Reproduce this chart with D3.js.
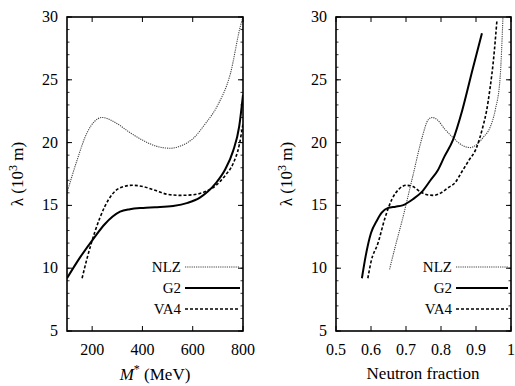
<!DOCTYPE html>
<html>
<head>
<meta charset="utf-8">
<script src="https://cdn.jsdelivr.net/npm/d3@7"></script>
<style>
  body { margin: 0; background: #fff; }
</style>
</head>
<body>
<div id="chart"></div>
<script>
// ---- left panel: lambda vs M* (MeV)
const mNLZ = [100, 140, 180, 240, 300, 350, 400, 450, 510, 560, 600, 650, 700, 750, 790, 800];
const lamNLZ_m = [16.0, 18.6, 20.8, 22.0, 21.5, 20.8, 20.2, 19.75, 19.55, 19.8, 20.3, 21.5, 23.0, 25.5, 29.3, 30.0];
const mG2 = [100, 150, 207, 250, 311, 350, 403, 450, 522, 580, 627, 660, 693, 730, 760, 785, 800];
const lamG2_m = [9.2, 10.8, 12.4, 13.5, 14.5, 14.7, 14.8, 14.85, 14.95, 15.2, 15.6, 16.1, 16.8, 17.9, 19.3, 21.3, 23.8];
const mVA4 = [160, 180, 211, 250, 311, 360, 403, 450, 496, 550, 603, 650, 693, 730, 760, 785, 800];
const lamVA4_m = [9.2, 10.8, 12.9, 14.9, 16.4, 16.6, 16.5, 16.2, 15.9, 15.8, 15.85, 16.1, 16.6, 17.4, 18.3, 19.8, 21.5];

// ---- right panel: lambda vs neutron fraction
const fNLZ = [0.653, 0.67, 0.689, 0.72, 0.746, 0.763, 0.775, 0.79, 0.81, 0.834, 0.86, 0.883, 0.90, 0.92, 0.94, 0.955, 0.969, 0.977];
const lamNLZ_f = [9.9, 11.8, 13.8, 17.4, 20.4, 21.8, 22.0, 21.8, 21.1, 20.4, 19.8, 19.6, 19.8, 20.4, 21.2, 22.6, 25.2, 30.0];
const fG2 = [0.574, 0.585, 0.60, 0.617, 0.63, 0.649, 0.67, 0.69, 0.72, 0.746, 0.77, 0.791, 0.81, 0.834, 0.86, 0.89, 0.917];
const lamG2_f = [9.2, 11.0, 12.8, 13.8, 14.4, 14.8, 14.9, 15.0, 15.5, 16.1, 17.0, 17.8, 18.9, 20.2, 22.5, 25.8, 28.7];
const fVA4 = [0.591, 0.60, 0.62, 0.64, 0.66, 0.68, 0.70, 0.72, 0.74, 0.76, 0.78, 0.80, 0.82, 0.84, 0.86, 0.88, 0.90, 0.92, 0.93, 0.94, 0.95, 0.96];
const lamVA4_f = [9.2, 10.5, 12.0, 14.0, 15.5, 16.3, 16.6, 16.5, 16.1, 15.85, 15.8, 16.0, 16.4, 16.8, 17.7, 18.6, 19.5, 21.3, 22.5, 24.3, 26.6, 29.8];

const yTicks = [5, 10, 15, 20, 25, 30];
const mTicks = [200, 400, 600, 800];
const fTicks = [0.5, 0.6, 0.7, 0.8, 0.9, 1];
const legendNames = ['NLZ', 'G2', 'VA4'];

const styles = {
  NLZ: { width: 1.1, dash: '1.2,1', color: '#444' },
  G2: { width: 2, dash: null, color: '#000' },
  VA4: { width: 1.6, dash: '3,2', color: '#000' }
};

const SERIF = 'Liberation Serif, DejaVu Serif, Times New Roman, Times, Tinos, FreeSerif, Nimbus Roman, serif';
const W = 515, H = 386;
const svg = d3.select('#chart').append('svg')
  .attr('width', W).attr('height', H)
  .style('font-family', SERIF);

function panel(cfg) {
  const x = d3.scaleLinear().domain(cfg.xDomain).range([cfg.left, cfg.right]);
  const y = d3.scaleLinear().domain([5, 30]).range([331, 17]);
  const g = svg.append('g');

  // clip for curves
  const clipId = 'clip' + cfg.id;
  g.append('clipPath').attr('id', clipId)
    .append('rect')
    .attr('x', cfg.left).attr('y', 17)
    .attr('width', cfg.right - cfg.left).attr('height', 314);

  // minor ticks on y (every 1) inward, both sides
  const minorY = d3.range(5, 31, 1);
  g.selectAll('.ymin').data(minorY).enter().append('line')
    .attr('x1', cfg.left).attr('x2', cfg.left + 2.5)
    .attr('y1', d => y(d)).attr('y2', d => y(d))
    .attr('stroke', '#000').attr('stroke-width', 0.8);
  g.selectAll('.ymin2').data(minorY).enter().append('line')
    .attr('x1', cfg.right).attr('x2', cfg.right - 2.5)
    .attr('y1', d => y(d)).attr('y2', d => y(d))
    .attr('stroke', '#000').attr('stroke-width', 0.8);
  // major y ticks
  g.selectAll('.ymaj').data(yTicks).enter().append('line')
    .attr('x1', cfg.left).attr('x2', cfg.left + 5)
    .attr('y1', d => y(d)).attr('y2', d => y(d))
    .attr('stroke', '#000').attr('stroke-width', 1);
  g.selectAll('.ymaj2').data(yTicks).enter().append('line')
    .attr('x1', cfg.right).attr('x2', cfg.right - 5)
    .attr('y1', d => y(d)).attr('y2', d => y(d))
    .attr('stroke', '#000').attr('stroke-width', 1);

  // x ticks inward bottom & top
  g.selectAll('.xmaj').data(cfg.xTicks).enter().append('line')
    .attr('x1', d => x(d)).attr('x2', d => x(d))
    .attr('y1', 331).attr('y2', 326)
    .attr('stroke', '#000').attr('stroke-width', 1);
  g.selectAll('.xmajt').data(cfg.xTicks).enter().append('line')
    .attr('x1', d => x(d)).attr('x2', d => x(d))
    .attr('y1', 17).attr('y2', 22)
    .attr('stroke', '#000').attr('stroke-width', 1);

  // tick labels
  g.selectAll('.ylab').data(yTicks).enter().append('text')
    .attr('x', cfg.left - 9).attr('y', d => y(d) + 5)
    .attr('text-anchor', 'end').attr('font-size', 16)
    .text(d => d);
  g.selectAll('.xlab').data(cfg.xTicks).enter().append('text')
    .attr('x', d => x(d)).attr('y', 355)
    .attr('text-anchor', 'middle').attr('font-size', 16)
    .text(cfg.fmt);

  // curves
  const line = d3.line()
    .x(d => x(d[0])).y(d => y(d[1]))
    .curve(d3.curveMonotoneX);
  const cg = g.append('g').attr('clip-path', `url(#${clipId})`);
  cfg.series.forEach(s => {
    const st = styles[s.name];
    cg.append('path')
      .datum(d3.zip(s.xs, s.ys))
      .attr('d', line)
      .attr('fill', 'none')
      .attr('stroke', st.color)
      .attr('stroke-width', st.width)
      .attr('stroke-dasharray', st.dash);
  });

  // frame
  g.append('rect')
    .attr('x', cfg.left).attr('y', 17)
    .attr('width', cfg.right - cfg.left).attr('height', 314)
    .attr('fill', 'none').attr('stroke', '#000').attr('stroke-width', 1.6);

  // legend
  legendNames.forEach((n, i) => {
    const st = styles[n];
    const ly = 267 + i * 21;
    g.append('text')
      .attr('x', cfg.legX).attr('y', ly + 5)
      .attr('text-anchor', 'end').attr('font-size', 15)
      .text(n);
    g.append('line')
      .attr('x1', cfg.legX + 4).attr('x2', cfg.right - 3)
      .attr('y1', ly).attr('y2', ly)
      .attr('stroke', st.color)
      .attr('stroke-width', st.width)
      .attr('stroke-dasharray', st.dash);
  });

  // y title
  const yt = g.append('text')
    .attr('transform', `translate(${cfg.ytX},${174}) rotate(-90)`)
    .attr('text-anchor', 'middle').attr('font-size', 17);
  yt.append('tspan').text('\u03bb (10');
  yt.append('tspan').attr('font-size', 12).attr('dy', -6).text('3');
  yt.append('tspan').attr('dy', 6).text(' m)');

  return g;
}

const left = panel({
  id: 'L', left: 67, right: 243, xDomain: [100, 800], xTicks: mTicks,
  fmt: d => d, legX: 181, ytX: 23,
  series: [
    { name: 'NLZ', xs: mNLZ, ys: lamNLZ_m },
    { name: 'G2', xs: mG2, ys: lamG2_m },
    { name: 'VA4', xs: mVA4, ys: lamVA4_m }
  ]
});
const right = panel({
  id: 'R', left: 336, right: 511, xDomain: [0.5, 1], xTicks: fTicks,
  fmt: d => d === 1 ? '1' : d.toFixed(1), legX: 452, ytX: 292,
  series: [
    { name: 'NLZ', xs: fNLZ, ys: lamNLZ_f },
    { name: 'G2', xs: fG2, ys: lamG2_f },
    { name: 'VA4', xs: fVA4, ys: lamVA4_f }
  ]
});

// x titles
const xt = left.append('text')
  .attr('x', 155).attr('y', 380)
  .attr('text-anchor', 'middle').attr('font-size', 17);
xt.append('tspan').attr('font-style', 'italic').text('M');
xt.append('tspan').attr('font-size', 12).attr('dy', -7).text('*');
xt.append('tspan').attr('dy', 7).text(' (MeV)');

right.append('text')
  .attr('x', 423).attr('y', 379)
  .attr('text-anchor', 'middle').attr('font-size', 17)
  .text('Neutron fraction');
</script>
</body>
</html>
